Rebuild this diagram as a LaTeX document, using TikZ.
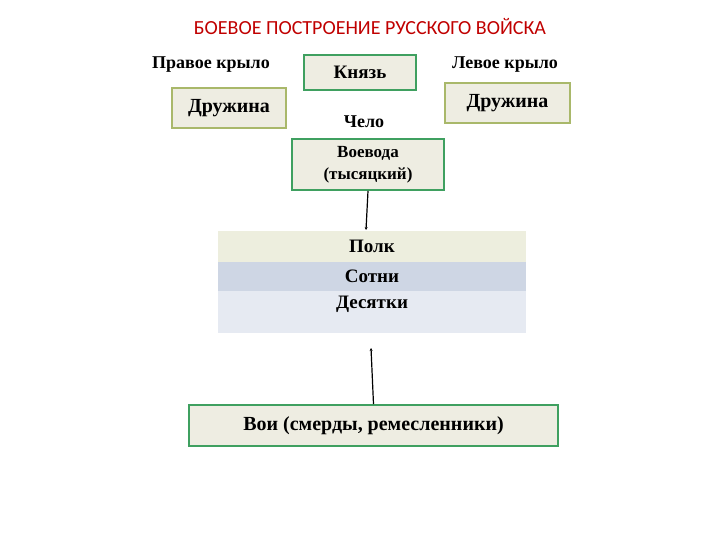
\documentclass[tikz,border=0pt]{standalone}
\usepackage{fontspec}
\setmainfont{Liberation Serif}
\newfontfamily\titlefont{Carlito}
\usetikzlibrary{arrows.meta}
\definecolor{boxfill}{HTML}{EEEDE2}
\definecolor{olivebd}{HTML}{A9B86A}
\definecolor{greenbd}{HTML}{3FA060}
\definecolor{polk}{HTML}{EDEEDE}
\definecolor{sotni}{HTML}{CED6E4}
\definecolor{desyat}{HTML}{E6EAF2}
\definecolor{titlered}{HTML}{C00000}
\tikzset{
  wing/.style={draw=olivebd,line width=1.5pt,fill=boxfill,font=\bfseries\fontsize{20}{22}\selectfont,inner sep=0pt},
  chief/.style={draw=greenbd,line width=1.8pt,fill=boxfill,font=\bfseries\fontsize{19}{21}\selectfont,inner sep=0pt,align=center},
  band/.style={inner sep=0pt,font=\bfseries\fontsize{19}{21}\selectfont},
  lbl/.style={font=\bfseries\fontsize{18}{20}\selectfont},
  con/.style={line width=1.2pt,-{Stealth[length=3pt,width=3pt]}}
}
\begin{document}
\begin{tikzpicture}[x=1pt,y=-1pt]
\useasboundingbox (0,0) rectangle (720,540);
\node[font=\titlefont\fontsize{20}{22}\selectfont,text=titlered] (title) at (370,27) {БОЕВОЕ ПОСТРОЕНИЕ РУССКОГО ВОЙСКА};
\node[lbl] (rw) at (211,65) {Правое крыло};
\node[lbl] (lw) at (505,65) {Левое крыло};
\node[lbl] (chelo) at (364,122) {Чело};
\node[wing,minimum width=114pt,minimum height=40pt] (dl) at (229,108) {Дружина};
\node[wing,minimum width=125pt,minimum height=40pt] (dr) at (507.5,103) {Дружина};
\node[chief,minimum width=112pt,minimum height=35pt] (kn) at (360,72.5) {Князь};
\node[chief,minimum width=152pt,minimum height=51pt,font=\bfseries\fontsize{17}{22}\selectfont] (vv) at (368,164.5) {Воевода\\(тысяцкий)};
\node[band,fill=polk,minimum width=308pt,minimum height=31pt] (polkn) at (372,246.5) {Полк};
\node[band,fill=sotni,minimum width=308pt,minimum height=29pt] (sot) at (372,276.5) {Сотни};
\node[band,fill=desyat,minimum width=308pt,minimum height=42pt,text depth=20pt] (des) at (372,312) {Десятки};
\node[chief,minimum width=369pt,minimum height=41pt,font=\bfseries\fontsize{20}{22}\selectfont] (voi) at (373.5,425.5) {Вои (смерды, ремесленники)};
\coordinate (t1) at (366,230);
\coordinate (t2) at (371,348);
\draw[con] (vv.south) -- (t1);
\draw[con] (voi.north) -- (t2);
\end{tikzpicture}
\end{document}
